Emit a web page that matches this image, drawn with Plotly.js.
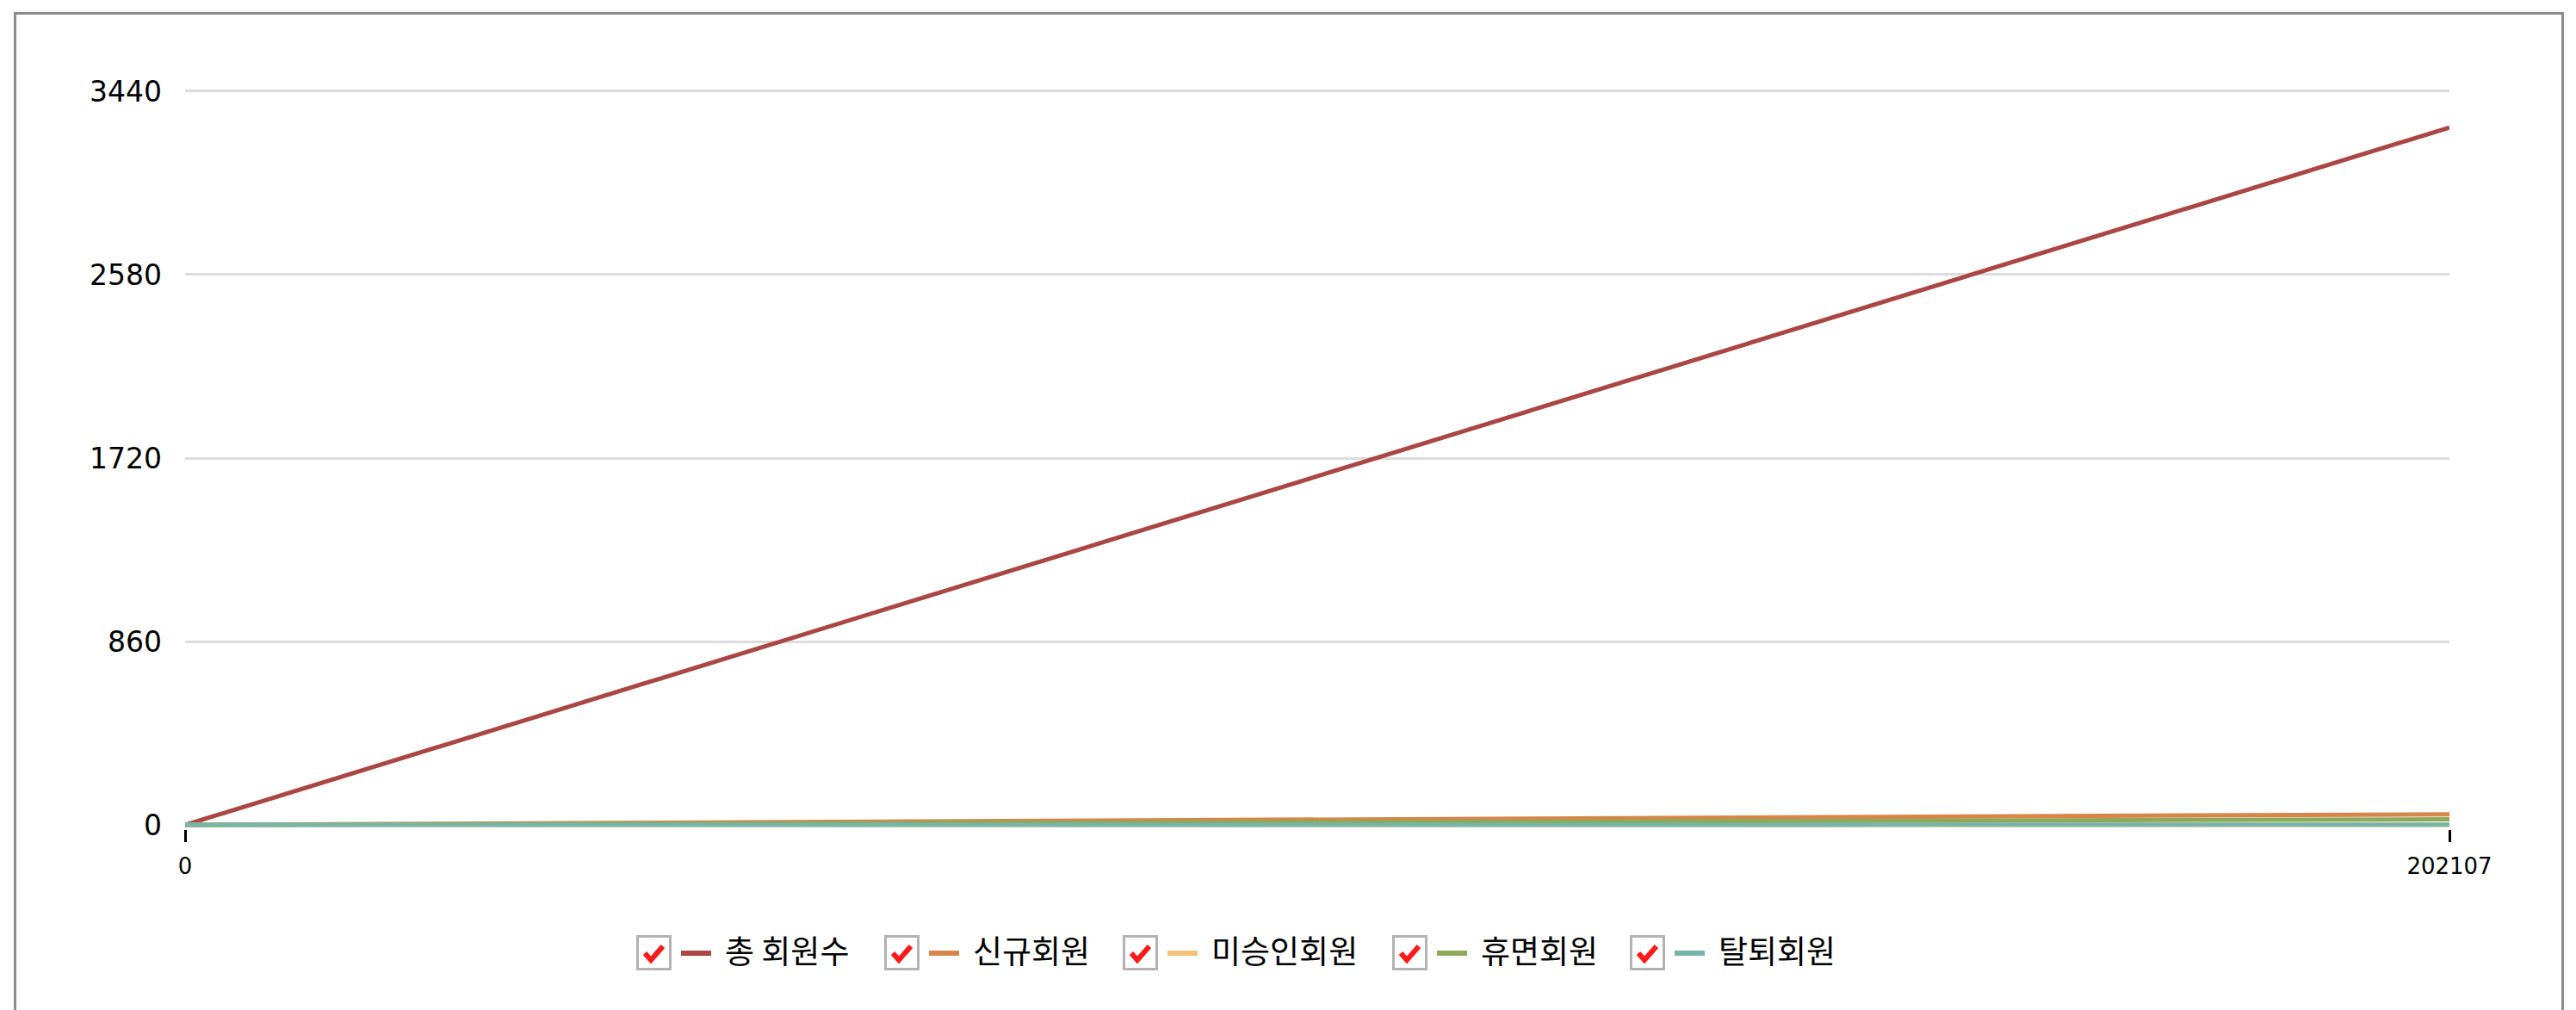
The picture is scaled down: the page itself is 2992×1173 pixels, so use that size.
<!DOCTYPE html>
<html>
<head>
<meta charset="utf-8">
<script src="https://cdn.plot.ly/plotly-3.0.1.min.js"></script>
<style>
  html, body { margin: 0; padding: 0; background: #ffffff; overflow: hidden; }
  #frame { position: absolute; left: 16px; top: 14px; width: 2962px; height: 1200px;
           border: 3px solid #8c8c8c; border-bottom: none; box-sizing: border-box; }
  #chart { position: absolute; left: 0; top: 0; width: 2992px; height: 1173px; }
</style>
</head>
<body>
<div id="frame"></div>
<div id="chart"></div>
<script>
// ---- data ----
var categories = ["0", "202107"];
var seriesNames = ["총 회원수", "신규회원", "미승인회원", "휴면회원", "탈퇴회원"];
var totalMembers = [0, 3270];
var newMembers = [0, 50];
var pendingMembers = [0, 0];
var dormantMembers = [0, 26];
var withdrawnMembers = [0, 1];
var yTickVals = [0, 860, 1720, 2580, 3440];
var yTickText = ["0", "860", "1720", "2580", "3440"];

// ---- styles ----
var colors = ["#aa4643", "#d8854a", "#f4c07a", "#8fa95a", "#77b5a8"];
var seriesValues = [totalMembers, newMembers, pendingMembers, dormantMembers, withdrawnMembers];

var W = 2992, H = 1173;
var yMin = -20, yMax = 3452;
var pxPerUnit = 852 / 3440;
var plotL = 215, plotR = 2845;
var plotB = Math.round(958 + (0 - yMin) * pxPerUnit);
var plotT = Math.round(106 - (yMax - 3440) * pxPerUnit);

var traces = seriesValues.map(function (vals, i) {
  return {
    type: "scatter", mode: "lines",
    x: categories, y: vals, name: seriesNames[i],
    line: { color: colors[i], width: 5 },
    hoverinfo: "skip", showlegend: false
  };
});

// pixel -> paper helpers for the custom legend
function px(X) { return (X - plotL) / (plotR - plotL); }
function py(Y) { return (plotB - Y) / (plotB - plotT); }

var legendBoxLeft = [739, 1027, 1304, 1617, 1893];
var boxTop = 1086, boxSize = 41, legendMidY = 1107;
var shapes = [], annotations = [];
legendBoxLeft.forEach(function (bx, i) {
  // checkbox
  shapes.push({ type: "rect", xref: "paper", yref: "paper",
    x0: px(bx + 1.5), x1: px(bx + boxSize - 1.5), y0: py(boxTop + 1.5), y1: py(boxTop + boxSize - 1.5),
    line: { color: "#b3b3b3", width: 3 }, fillcolor: "#ffffff" });
  // check mark
  var p = "M " + px(bx + 10) + "," + py(boxTop + 21) +
          " L " + px(bx + 17) + "," + py(boxTop + 29) +
          " L " + px(bx + 31) + "," + py(boxTop + 13);
  shapes.push({ type: "path", xref: "paper", yref: "paper", path: p,
    line: { color: "#ff1a1a", width: 6 } });
  // colour swatch
  shapes.push({ type: "rect", xref: "paper", yref: "paper",
    x0: px(bx + 52), x1: px(bx + 87), y0: py(legendMidY - 3), y1: py(legendMidY + 3),
    line: { width: 0 }, fillcolor: colors[i] });
  // label
  annotations.push({ xref: "paper", yref: "paper", x: px(bx + 101), y: py(1103),
    xanchor: "left", yanchor: "middle", showarrow: false, text: seriesNames[i],
    font: { family: "Noto Sans CJK KR, DejaVu Sans, sans-serif", size: 37, color: "#000000" } });
});

var layout = {
  width: W, height: H,
  margin: { l: plotL, r: W - plotR, t: plotT, b: H - plotB, pad: 0 },
  paper_bgcolor: "rgba(0,0,0,0)", plot_bgcolor: "rgba(0,0,0,0)",
  showlegend: false,
  xaxis: {
    type: "category", range: [0, 1], autorange: false,
    showgrid: false, zeroline: false, showline: false,
    ticks: "outside", ticklen: 14, tickwidth: 3, tickcolor: "#000000",
    tickfont: { family: "DejaVu Sans, sans-serif", size: 26, color: "#000000" },
    ticklabelstandoff: 6
  },
  yaxis: {
    range: [yMin, yMax], autorange: false,
    tickmode: "array", tickvals: yTickVals, ticktext: yTickText,
    showgrid: true, gridcolor: "#dcdcdc", gridwidth: 3,
    zeroline: false, showline: false, ticks: "",
    tickfont: { family: "DejaVu Sans, sans-serif", size: 33, color: "#000000" },
    ticklabelstandoff: 26
  },
  shapes: shapes,
  annotations: annotations
};

Plotly.newPlot("chart", traces, layout, { staticPlot: true, displayModeBar: false });
</script>
</body>
</html>
